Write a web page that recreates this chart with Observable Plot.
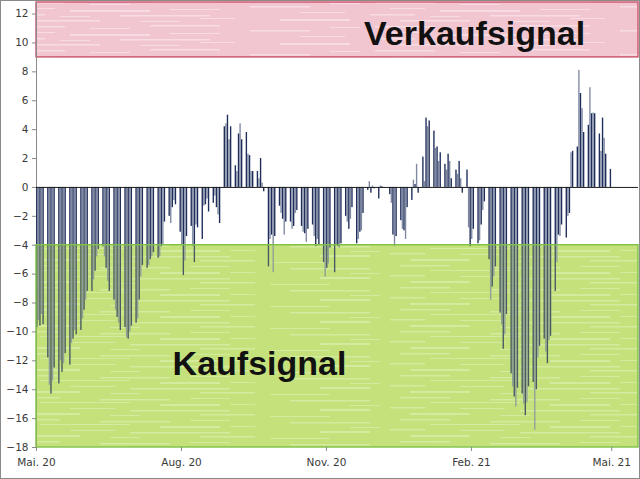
<!DOCTYPE html>
<html>
<head>
<meta charset="utf-8">
<script src="https://cdn.jsdelivr.net/npm/d3@7"></script>
<script src="https://cdn.jsdelivr.net/npm/@observablehq/plot@0.6"></script>
<style>
  html, body { margin: 0; padding: 0; background: #fff; }
  #chart svg { display: block; outline: 1px solid #8a8a8a; outline-offset: -1px; }
</style>
</head>
<body>
<div id="chart"></div>
<script>
// ---- data ----
const firstWeekStart = "2020-05-01";
const axisStart = "2020-05-01";
const axisEnd = "2021-05-18";
const sellLevel = 9;
const buyLevel = -4;
const yMin = -18;
const yMax = 12.8;
const yTicks = [-18, -16, -14, -12, -10, -8, -6, -4, -2, 0, 2, 4, 6, 8, 10, 12];
const tickDates = ["2020-05-01", "2020-08-01", "2020-11-01", "2021-02-01", "2021-05-01"];
const tickLabels = ["Mai. 20", "Aug. 20", "Nov. 20", "Feb. 21", "Mai. 21"];
const sellLabel = "Verkaufsignal";
const buyLabel = "Kaufsignal";
// five values per week (one per trading day)
const weeklyValues = [
  [-9.7, -9.2, -9.6, -8.8, -9.5],
  [-11.8, -13.7, -14.3, -13.4, -12.5],
  [-13.6, -12.0, -12.8, -12.2, -11.5],
  [-12.3, -10.8, -10.5, -9.9, -10.2],
  [-9.9, -9.1, -8.5, -7.8, -7.2],
  [-7.2, -6.4, -5.8, -4.8, -4.3],
  [-4.1, -4.8, -5.6, -6.5, -7.2],
  [-7.8, -8.5, -9.0, -9.4, -9.9],
  [-9.7, -10.4, -10.5, -10.0, -9.6],
  [-9.4, -9.1, -7.8, -6.2, -5.4],
  [-5.6, -5.4, -5.0, -4.8, -4.5],
  [-4.9, -4.8, -4.1, -4.0, -2.4],
  [-2.0, -2.5, -1.4, -0.9, -1.2],
  [-3.1, -4.0, -6.1, -5.1, -3.4],
  [-2.7, -4.1, -5.2, -2.6, -2.8],
  [-3.6, -1.3, -1.2, -0.8, -1.7],
  [-1.1, -0.6, -1.4, -1.9, -2.5],
  [4.2, 4.4, 5.0, 3.3, 4.2],
  [1.5, 1.1, 3.7, 4.4, 3.3],
  [3.8, 2.3, 2.2, 1.1, 1.1],
  [1.1, 0.6, 2.0, 0.3, -0.3],
  [-5.5, -3.6, -3.3, -5.9, -3.4],
  [-1.3, -1.8, -2.2, -3.3, -2.4],
  [-2.4, -2.9, -2.7, -1.8, -1.6],
  [-2.7, -3.1, -3.2, -3.8, -2.9],
  [-2.6, -3.4, -4.1, -3.6, -4.0],
  [-5.2, -6.2, -5.6, -5.3, -4.2],
  [-5.9, -4.0, -4.1, -4.2, -3.9],
  [-2.0, -2.4, -2.9, -2.2, -1.4],
  [-3.9, -3.6, -3.1, -3.0, -1.8],
  [-0.2, 0.4, -0.4, 0.1, -0.1],
  [-0.8, 0.1, 0.05, 0, 0],
  [-0.5, -1.1, -3.3, -4.1, -3.4],
  [-2.3, -2.9, -3.0, -3.6, -1.4],
  [-0.9, 0.5, 0.2, 1.6, -0.4],
  [2.1, 0.4, 4.8, 4.2, 4.6],
  [3.9, 2.7, 2.8, 1.8, 2.4],
  [1.6, 1.2, 2.3, 1.8, 0.6],
  [1.2, 0.9, 1.8, 0.6, -0.4],
  [1.2, -2.8, -4.1, -3.6, -2.9],
  [-3.9, -3.7, -2.6, -1.6, -1.0],
  [-5.0, -7.8, -6.9, -6.2, -5.5],
  [-8.7, -9.5, -11.2, -10.2, -8.8],
  [-12.9, -13.8, -14.5, -15.2, -13.9],
  [-14.3, -15.0, -15.8, -14.9, -13.8],
  [-13.5, -16.8, -14.0, -11.8, -11.0],
  [-10.5, -11.4, -12.2, -10.6, -10.3],
  [-7.2, -5.2, -3.3, -3.4, -2.6],
  [-3.5, -2.0, -1.8, 2.4, 2.5],
  [2.8, 8.1, 6.5, 5.45, 3.8],
  [4.3, 6.9, 5.1, 5.15, 5.1],
  [3.7, 2.5, 4.8, 3.4, 2.3],
  [1.25]
];

// ---- build table ----
const DAY = 864e5;
const t0 = new Date(firstWeekStart + "T00:00:00Z").getTime();
const rows = [];
weeklyValues.forEach((week, k) => {
  week.forEach((v, j) => {
    const start = new Date(t0 + (7 * k + j) * DAY);
    const end = new Date(t0 + (7 * k + j + 1) * DAY);
    rows.push({date: start, end, value: v, tone: j % 2});
  });
});
const xStart = new Date(axisStart + "T00:00:00Z");
const xEnd = new Date(axisEnd + "T00:00:00Z");
const ticks = tickDates.map(d => new Date(d + "T00:00:00Z"));
const labelOf = new Map(ticks.map((d, i) => [+d, tickLabels[i]]));
const sellBand = [{x1: xStart, x2: xEnd, y1: sellLevel, y2: yMax}];
const buyBand = [{x1: xStart, x2: xEnd, y1: yMin, y2: buyLevel}];

const navy = "#1f2d5a";
const grey = "#7f8aa2";
const labelFont = "'Liberation Sans', Arial, sans-serif";

const chart = Plot.plot({
  width: 640,
  height: 479,
  marginLeft: 36,
  marginRight: 2,
  marginTop: 2,
  marginBottom: 32,
  style: {fontFamily: "'DejaVu Sans', Verdana, sans-serif", fontSize: "10.5px", color: "#3a3a3a", background: "#fff"},
  x: {type: "utc", domain: [xStart, xEnd]},
  y: {domain: [yMin, yMax]},
  marks: [
    Plot.rect(sellBand, {x1: "x1", x2: "x2", y1: "y1", y2: "y2", fill: "url(#pinkTex)", stroke: "#c9465f", strokeWidth: 1.3}),
    Plot.rect(buyBand, {x1: "x1", x2: "x2", y1: "y1", y2: "y2", fill: "url(#greenTex)"}),
    Plot.ruleX([xStart], {y1: yMin, y2: yMax, stroke: "#8a8a8a"}),
    Plot.rectY(rows.filter(d => d.tone === 1), {x1: "date", x2: "end", y: "value", fill: grey, insetLeft: 0.1, insetRight: 0.1}),
    Plot.rectY(rows.filter(d => d.tone === 0), {x1: "date", x2: "end", y: "value", fill: navy, insetLeft: 0.1, insetRight: 0.1}),
    Plot.rect(buyBand, {x1: "x1", x2: "x2", y1: "y1", y2: "y2", fill: "#c6e27e", fillOpacity: 0.25, stroke: "#7cc144", strokeWidth: 1.4}),
    Plot.ruleY([0], {stroke: "#1c1c1c", strokeWidth: 1}),
    Plot.axisY({ticks: yTicks, tickSize: 4, tickPadding: 4, stroke: "#8a8a8a", fill: "#3a3a3a", label: null}),
    Plot.axisX({ticks, tickFormat: d => labelOf.get(+d), tickSize: 4, tickPadding: 7, stroke: "#8a8a8a", fill: "#3a3a3a", label: null}),
    Plot.text([sellLabel], {x: new Date("2021-02-03T00:00:00Z"), y: 10.6, text: d => d, fontSize: 34, fontWeight: "bold", fontFamily: labelFont, fill: "#111"}),
    Plot.text([buyLabel], {x: new Date("2020-09-19T12:00:00Z"), y: -12.25, text: d => d, fontSize: 34, fontWeight: "bold", fontFamily: labelFont, fill: "#111"})
  ]
});

// texture patterns for the signal bands (styling only)
function tile(id, w, h, base, streakColor, op, streaks) {
  const r = streaks.map(([x, y, sw, sh]) =>
    `<rect x="${x}" y="${y}" width="${sw}" height="${sh}" fill="${streakColor}" opacity="${op}"/>`).join("");
  return `<pattern id="${id}" patternUnits="userSpaceOnUse" width="${w}" height="${h}">
    <rect width="${w}" height="${h}" fill="${base}"/>${r}</pattern>`;
}
const pinkStreaks = [[5,2,60,1.5],[90,4,40,1],[150,1,70,1.5],[20,8,35,1],[70,10,80,2],[170,9,50,1],[0,14,45,1.5],[60,16,30,1],[120,15,90,1.5],[30,20,70,1.5],[140,21,40,1],[200,18,35,1],[250,6,60,1.5],[300,12,45,1],[280,19,70,2],[330,3,30,1]];
const greenStreaks = [[10,1,50,1.5],[100,3,70,1.5],[190,2,40,1],[40,6,90,1],[160,8,60,2],[0,11,35,1.5],[70,12,45,1],[130,14,100,1.5],[20,17,60,2],[110,19,30,1],[200,18,55,1.5],[230,8,25,1],[290,4,80,1.5],[320,13,50,2],[270,20,60,1],[350,9,30,1]];
d3.select(chart).insert("defs", ":first-child").html(
  tile("pinkTex", 370, 24, "#f2c6d0", "#ffffff", 0.4, pinkStreaks) +
  tile("greenTex", 390, 22, "#c4e07a", "#eef7d6", 0.5, greenStreaks)
);

document.getElementById("chart").append(chart);
</script>
</body>
</html>
